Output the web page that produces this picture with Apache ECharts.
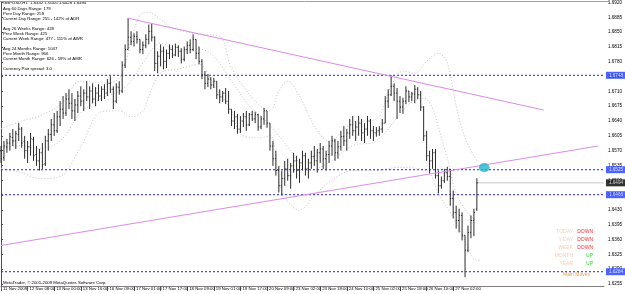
<!DOCTYPE html>
<html>
<head>
<meta charset="utf-8">
<script src="https://cdn.jsdelivr.net/npm/echarts@6/dist/echarts.min.js"></script>
<style>
html, body { margin: 0; padding: 0; background: #fff; }
#chart { width: 625px; height: 294px; }
</style>
</head>
<body>
<div id="chart"></div>
<script>
// GBPUSD H1 bars
var opens = [
  1.6570,1.6554,1.6579,1.6588,1.6601,1.6593,1.6608,1.6621,1.6591,1.6570,
  1.6579,1.6596,1.6561,1.6546,1.6565,1.6539,1.6593,1.6608,1.6631,1.6617,
  1.6650,1.6668,1.6659,1.6692,1.6682,1.6664,1.6678,1.6699,1.6687,1.6706,
  1.6697,1.6711,1.6692,1.6706,1.6699,1.6715,1.6706,1.6729,1.6715,1.6687,
  1.6720,1.6711,1.6772,1.6809,1.6838,1.6828,1.6840,1.6833,1.6809,1.6819,
  1.6833,1.6852,1.6838,1.6776,1.6793,1.6805,1.6781,1.6800,1.6809,1.6796,
  1.6814,1.6805,1.6786,1.6809,1.6819,1.6809,1.6833,1.6800,1.6781,1.6749,
  1.6729,1.6739,1.6725,1.6734,1.6702,1.6697,1.6706,1.6687,1.6668,1.6640,
  1.6650,1.6621,1.6640,1.6650,1.6631,1.6655,1.6645,1.6655,1.6626,1.6645,
  1.6664,1.6635,1.6581,1.6551,1.6523,1.6487,1.6504,1.6527,1.6511,1.6534,
  1.6546,1.6523,1.6541,1.6558,1.6527,1.6541,1.6556,1.6546,1.6565,1.6574,
  1.6551,1.6561,1.6581,1.6593,1.6565,1.6579,1.6603,1.6593,1.6612,1.6631,
  1.6617,1.6626,1.6635,1.6612,1.6621,1.6640,1.6617,1.6612,1.6617,1.6621,
  1.6635,1.6687,1.6702,1.6722,1.6706,1.6687,1.6673,1.6687,1.6711,1.6697,
  1.6704,1.6715,1.6702,1.6673,1.6605,1.6558,1.6546,1.6565,1.6511,1.6487,
  1.6499,1.6518,1.6509,1.6457,1.6424,1.6405,1.6417,1.6370,1.6335,1.6377,
  1.6405,1.6432
];
var highs = [
  1.6581,1.6593,1.6598,1.6612,1.6621,1.6617,1.6635,1.6626,1.6605,1.6593,
  1.6612,1.6603,1.6581,1.6574,1.6588,1.6605,1.6621,1.6645,1.6659,1.6664,
  1.6687,1.6699,1.6706,1.6715,1.6706,1.6692,1.6711,1.6722,1.6715,1.6734,
  1.6722,1.6729,1.6720,1.6727,1.6722,1.6727,1.6739,1.6746,1.6722,1.6729,
  1.6734,1.6781,1.6821,1.6883,1.6852,1.6847,1.6852,1.6833,1.6828,1.6845,
  1.6868,1.6870,1.6840,1.6805,1.6821,1.6816,1.6809,1.6821,1.6819,1.6823,
  1.6819,1.6812,1.6816,1.6828,1.6833,1.6845,1.6833,1.6816,1.6786,1.6758,
  1.6751,1.6744,1.6742,1.6734,1.6715,1.6711,1.6718,1.6711,1.6668,1.6664,
  1.6657,1.6652,1.6659,1.6664,1.6659,1.6664,1.6662,1.6657,1.6652,1.6671,
  1.6664,1.6635,1.6593,1.6570,1.6534,1.6523,1.6546,1.6551,1.6541,1.6565,
  1.6558,1.6551,1.6570,1.6565,1.6551,1.6570,1.6581,1.6574,1.6588,1.6581,
  1.6570,1.6593,1.6605,1.6598,1.6593,1.6617,1.6628,1.6621,1.6645,1.6652,
  1.6640,1.6652,1.6645,1.6635,1.6652,1.6645,1.6628,1.6626,1.6628,1.6645,
  1.6699,1.6715,1.6748,1.6729,1.6718,1.6699,1.6695,1.6722,1.6711,1.6709,
  1.6725,1.6720,1.6711,1.6675,1.6617,1.6570,1.6574,1.6574,1.6523,1.6509,
  1.6527,1.6532,1.6527,1.6476,1.6440,1.6433,1.6424,1.6370,1.6393,1.6417,
  1.6433,1.6505
];
var lows = [
  1.6541,1.6546,1.6565,1.6570,1.6581,1.6574,1.6593,1.6577,1.6551,1.6541,
  1.6558,1.6546,1.6534,1.6523,1.6527,1.6534,1.6570,1.6593,1.6605,1.6612,
  1.6628,1.6645,1.6652,1.6668,1.6645,1.6640,1.6659,1.6675,1.6664,1.6687,
  1.6668,1.6682,1.6675,1.6687,1.6687,1.6692,1.6699,1.6706,1.6668,1.6682,
  1.6702,1.6706,1.6765,1.6809,1.6819,1.6816,1.6823,1.6800,1.6798,1.6812,
  1.6821,1.6828,1.6758,1.6753,1.6769,1.6762,1.6765,1.6786,1.6789,1.6793,
  1.6791,1.6776,1.6781,1.6798,1.6800,1.6805,1.6786,1.6774,1.6739,1.6715,
  1.6720,1.6715,1.6718,1.6692,1.6682,1.6685,1.6680,1.6657,1.6628,1.6621,
  1.6610,1.6612,1.6626,1.6617,1.6628,1.6640,1.6635,1.6617,1.6621,1.6631,
  1.6624,1.6570,1.6534,1.6511,1.6471,1.6464,1.6487,1.6499,1.6480,1.6518,
  1.6504,1.6494,1.6523,1.6511,1.6504,1.6527,1.6534,1.6518,1.6541,1.6527,
  1.6523,1.6541,1.6558,1.6546,1.6551,1.6570,1.6581,1.6570,1.6598,1.6605,
  1.6593,1.6605,1.6593,1.6588,1.6605,1.6598,1.6593,1.6603,1.6605,1.6612,
  1.6635,1.6671,1.6699,1.6687,1.6645,1.6659,1.6657,1.6680,1.6685,1.6687,
  1.6682,1.6692,1.6664,1.6593,1.6546,1.6516,1.6527,1.6504,1.6469,1.6480,
  1.6494,1.6499,1.6440,1.6410,1.6386,1.6377,1.6358,1.6271,1.6330,1.6363,
  1.6368,1.6428
];
var closes = [
  1.6551,1.6581,1.6588,1.6603,1.6593,1.6610,1.6621,1.6588,1.6570,1.6579,
  1.6598,1.6558,1.6546,1.6565,1.6537,1.6593,1.6608,1.6631,1.6617,1.6650,
  1.6668,1.6659,1.6692,1.6682,1.6664,1.6678,1.6699,1.6687,1.6706,1.6697,
  1.6711,1.6692,1.6706,1.6699,1.6715,1.6706,1.6729,1.6715,1.6687,1.6720,
  1.6711,1.6772,1.6809,1.6838,1.6828,1.6840,1.6833,1.6809,1.6819,1.6833,
  1.6852,1.6838,1.6776,1.6793,1.6805,1.6781,1.6800,1.6809,1.6796,1.6814,
  1.6805,1.6786,1.6809,1.6819,1.6809,1.6833,1.6800,1.6781,1.6749,1.6729,
  1.6739,1.6725,1.6734,1.6702,1.6697,1.6706,1.6687,1.6668,1.6640,1.6650,
  1.6621,1.6640,1.6650,1.6631,1.6655,1.6645,1.6655,1.6626,1.6645,1.6664,
  1.6635,1.6581,1.6551,1.6523,1.6487,1.6504,1.6527,1.6511,1.6534,1.6546,
  1.6523,1.6541,1.6558,1.6527,1.6541,1.6556,1.6546,1.6565,1.6574,1.6551,
  1.6561,1.6581,1.6593,1.6565,1.6579,1.6603,1.6593,1.6612,1.6631,1.6617,
  1.6626,1.6635,1.6612,1.6621,1.6640,1.6617,1.6612,1.6617,1.6621,1.6635,
  1.6687,1.6702,1.6722,1.6706,1.6687,1.6673,1.6687,1.6711,1.6697,1.6704,
  1.6715,1.6702,1.6673,1.6605,1.6558,1.6546,1.6565,1.6511,1.6487,1.6499,
  1.6518,1.6509,1.6457,1.6424,1.6405,1.6417,1.6370,1.6335,1.6377,1.6405,
  1.6424,1.6494
];

// dotted bands, read at a few bar positions each
var upperIdx = [0,7,13,20,27,34,40,44,47,50,54,57,62,67,74,78,86,91,94,97,101,106,111,119,127,132,136,140,144,148,151,154,157,161];
var upperVal = [1.6622,1.6640,1.6652,1.6678,1.6734,1.6730,1.6741,1.6828,1.6890,1.6897,1.6880,1.6864,1.6852,1.6845,1.6840,1.6765,1.6687,1.6664,1.6711,1.6734,1.6699,1.6629,1.6593,1.6636,1.6645,1.6723,1.6758,1.6753,1.6781,1.6800,1.6777,1.6676,1.6600,1.6546];
var midIdx = [0,7,13,20,27,34,40,44,48,54,60,67,72,78,84,89,94,98,104,111,119,127,138,143,150,154,158,161];
var midVal = [1.6575,1.6582,1.6575,1.6593,1.6659,1.6694,1.6711,1.6734,1.6777,1.6824,1.6805,1.6810,1.6793,1.6734,1.6676,1.6645,1.6605,1.6570,1.6523,1.6542,1.6582,1.6593,1.6680,1.6694,1.6577,1.6469,1.6422,1.6405];
var lowerIdx = [0,7,13,20,27,34,40,44,48,50,54,60,67,72,78,81,87,91,95,101,106,111,119,127,134,144,148,153,157,160,162];
var lowerVal = [1.6528,1.6518,1.6504,1.6509,1.6579,1.6662,1.6664,1.6650,1.6664,1.6699,1.6753,1.6763,1.6774,1.6723,1.6664,1.6610,1.6600,1.6605,1.6476,1.6429,1.6464,1.6495,1.6523,1.6523,1.6530,1.6523,1.6469,1.6412,1.6358,1.6314,1.6311];

// trend lines: [bar index, price]
var upperTrend = [[42.9, 1.6883], [183.6, 1.6666]];
var lowerTrend = [[0, 1.6346], [202, 1.6581]];
var marker = [163.5, 1.6530];

var levels = [1.6748, 1.6525, 1.6466, 1.6284];
var bidPrice = 1.6494;

var yTicks = ['1.6255','1.6290','1.6325','1.6360','1.6395','1.6430','1.6465','1.6500','1.6535','1.6570',
              '1.6605','1.6640','1.6675','1.6710','1.6745','1.6780','1.6815','1.6850','1.6885','1.6920'];
var xTickLabels = ['11 Nov 2009','12 Nov 08:00','13 Nov 00:00','13 Nov 16:00','16 Nov 09:00','17 Nov 01:00',
                   '17 Nov 17:00','18 Nov 09:00','19 Nov 01:00','19 Nov 17:00','20 Nov 09:00','23 Nov 02:00',
                   '23 Nov 18:00','24 Nov 10:00','25 Nov 02:00','25 Nov 18:00','26 Nov 10:00','27 Nov 02:00'];
var xTickStep = 9;
var xMax = 204;

var infoLines = [
  'GBPUSD,H1  1.6432 1.6505 1.6428 1.6494',
  'Avg 60 Days Range: 179',
  'Prev Day Range: 259',
  'Current Day Range: 255 - 142% of ADR',
  'Avg 26 Weeks Range: 428',
  'Prev Week Range: 425',
  'Current Week Range: 477 - 111% of AWR',
  'Avg 24 Months Range: 1047',
  'Prev Month Range: 966',
  'Current Month Range: 626 - 59% of AMR',
  'Currency Pair spread: 3.0'
];
var infoY = [3, 9, 14, 19, 29, 34, 39, 49, 54, 59, 69];

var moveNames = ['TODAY', 'Y-DAY', 'WEEK', 'MONTH', 'YEAR'];
var moveDirs = ['DOWN', 'DOWN', 'DOWN', 'UP', 'UP'];
var moveY = [232, 240, 248, 256, 264];

var chart = echarts.init(document.getElementById('chart'));

var ohlc = opens.map(function (o, i) { return [i, o, highs[i], lows[i], closes[i]]; });
var xTickValues = xTickLabels.map(function (s, i) { return i * xTickStep; });
var lastBar = opens.length - 1;

function bandSeries(idx, vals) {
  return {
    type: 'line', data: idx.map(function (x, k) { return [x, vals[k]]; }),
    smooth: 0.35, symbol: 'none', silent: true, z: 1,
    lineStyle: { color: '#c2c2c2', width: 1, type: [1, 2] }
  };
}
function levelSeries(v, color, dash, from) {
  return {
    type: 'line', data: [[from, v], [xMax, v]], symbol: 'none', silent: true, z: 2,
    lineStyle: { color: color, width: 1, type: dash }
  };
}
function priceBox(v, boxColor) {
  return {
    type: 'scatter', data: [[xMax, v]], symbolSize: 0, silent: true, z: 10, clip: false,
    label: { show: true, position: 'right', distance: 2, formatter: v.toFixed(4),
      backgroundColor: boxColor, color: '#fff', fontSize: 4.6, fontFamily: 'Liberation Sans', padding: [1, 3] }
  };
}

var graphics = [];
infoLines.forEach(function (t, i) {
  graphics.push({ type: 'text', x: 3, y: infoY[i],
    style: { text: t, fill: '#000', fontSize: 4.3, fontFamily: 'Liberation Sans', verticalAlign: 'middle' } });
});
moveNames.forEach(function (t, i) {
  graphics.push({ type: 'text', x: 573, y: moveY[i],
    style: { text: t, fill: '#f6cbb0', fontSize: 5, fontFamily: 'Liberation Sans', align: 'right', verticalAlign: 'middle' } });
  graphics.push({ type: 'text', x: 593, y: moveY[i],
    style: { text: moveDirs[i], fill: moveDirs[i] === 'UP' ? '#2ed82e' : '#ee3333', fontSize: 5, fontFamily: 'Liberation Sans', align: 'right', verticalAlign: 'middle' } });
});
graphics.push({ type: 'text', x: 563, y: 275,
  style: { text: 'Main Moves', fill: '#f0a23a', fontSize: 5, fontFamily: 'Liberation Sans', verticalAlign: 'middle' } });
graphics.push({ type: 'text', x: 3, y: 283,
  style: { text: 'MetaTrader, \u00a9 2001-2009 MetaQuotes Software Corp.', fill: '#000', fontSize: 4.3, fontFamily: 'Liberation Sans', verticalAlign: 'middle' } });
graphics.push({ type: 'line', shape: { x1: 0, y1: 1.5, x2: 609, y2: 1.5 }, style: { stroke: '#a0a0a0', lineWidth: 1 } });

var series = [
  bandSeries(upperIdx, upperVal),
  bandSeries(midIdx, midVal),
  bandSeries(lowerIdx, lowerVal)
];
levels.forEach(function (v) {
  series.push(levelSeries(v, '#1e1eff', [2, 2], 0));
  series.push(priceBox(v, '#1f3cff'));
});
series.push(levelSeries(bidPrice, '#c8c8c8', 'solid', lastBar));
series.push(priceBox(bidPrice, '#000'));
series.push({
  type: 'custom', data: ohlc, encode: { x: 0, y: [1, 2, 3, 4] }, z: 3,
  renderItem: function (params, api) {
    var x = api.value(0);
    var o = api.coord([x, api.value(1)]);
    var h = api.coord([x, api.value(2)]);
    var l = api.coord([x, api.value(3)]);
    var c = api.coord([x, api.value(4)]);
    var st = { stroke: '#2b2b2b', lineWidth: 1 };
    return { type: 'group', children: [
      { type: 'line', shape: { x1: h[0], y1: h[1], x2: l[0], y2: l[1] }, style: st },
      { type: 'line', shape: { x1: o[0] - 1, y1: o[1], x2: o[0], y2: o[1] }, style: st },
      { type: 'line', shape: { x1: c[0], y1: c[1], x2: c[0] + 1, y2: c[1] }, style: st }
    ] };
  }
});
series.push({
  type: 'line', data: upperTrend, symbol: 'none', silent: true, z: 4,
  lineStyle: { color: '#dc8ae8', width: 1 }
});
series.push({
  type: 'line', data: lowerTrend, symbol: 'none', silent: true, z: 4,
  lineStyle: { color: '#dc8ae8', width: 1 }
});
series.push({
  type: 'scatter', data: [marker], symbol: 'circle', symbolSize: [11, 9], z: 5, silent: true,
  itemStyle: { color: '#22b6cc' }
});

option = {
  animation: false,
  backgroundColor: '#fff',
  grid: { left: 0, right: 16, top: 1, bottom: 8 },
  xAxis: {
    type: 'value', min: 0, max: xMax,
    splitLine: { show: false },
    axisLine: { lineStyle: { color: '#808080' } },
    axisTick: { length: 5, lineStyle: { color: '#606060' }, customValues: xTickValues },
    axisLabel: {
      customValues: xTickValues, align: 'left', margin: 1, padding: [0, 0, 0, 2],
      fontSize: 4.3, fontFamily: 'Liberation Sans', color: '#000',
      formatter: function (v) { return xTickLabels[Math.round(v / xTickStep)] || ''; }
    }
  },
  yAxis: {
    type: 'value', position: 'right', min: 1.62503, max: 1.6920,
    splitLine: { show: false },
    axisLine: { show: true, lineStyle: { color: '#505050' } },
    axisTick: { length: 2, lineStyle: { color: '#505050' }, customValues: yTicks.map(Number) },
    axisLabel: {
      customValues: yTicks.map(Number), margin: 4,
      fontSize: 4.6, fontFamily: 'Liberation Sans', color: '#000',
      formatter: function (v) { return v.toFixed(4); }
    }
  },
  graphic: graphics,
  series: series
};
chart.setOption(option);
</script>
</body>
</html>
